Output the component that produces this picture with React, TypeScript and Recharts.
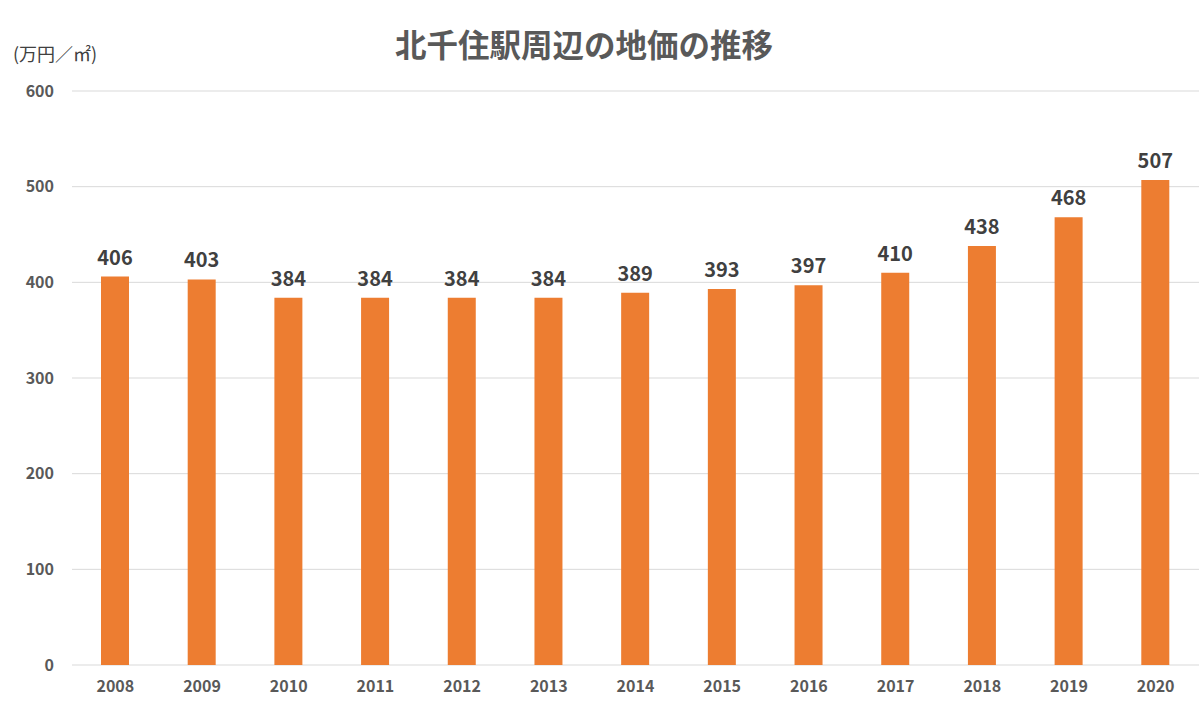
import React from 'react';
import { BarChart, Bar, XAxis, YAxis, CartesianGrid, LabelList } from 'recharts';

const years = ['2008','2009','2010','2011','2012','2013','2014','2015','2016','2017','2018','2019','2020'];
const prices = [406, 403, 384, 384, 384, 384, 389, 393, 397, 410, 438, 468, 507];
const yTicks = [0, 100, 200, 300, 400, 500, 600];

const data = years.map((y, i) => ({ year: y, price: prices[i] }));

const FONT = '"Noto Sans CJK JP", "Noto Sans", sans-serif';

export default function App() {
  return (
    <div style={{ position: 'absolute', left: 0, top: 0, width: 1200, height: 701, background: '#fff', fontFamily: FONT }}>
      <div style={{ position: 'absolute', left: 0, width: 1168, top: 22, lineHeight: '42px', textAlign: 'center', fontSize: 31.5, fontWeight: 700, color: '#595959' }}>
        北千住駅周辺の地価の推移
      </div>
      <div style={{ position: 'absolute', left: 13, top: 40, lineHeight: '26px', fontSize: 18, color: '#404040' }}>
        (万円／㎡)
      </div>
      <BarChart width={1200} height={701} data={data} margin={{ top: 91, right: 1, bottom: 6, left: 0 }} barSize={28}>
        <CartesianGrid horizontal vertical={false} stroke="#d9d9d9" />
        <XAxis dataKey="year" axisLine={false} tickLine={false} tickMargin={10}
          tick={{ fontSize: 16, fontWeight: 700, fill: '#595959', fontFamily: FONT }} />
        <YAxis width={72} domain={[0, 600]} ticks={yTicks} axisLine={false} tickLine={false} tickMargin={12}
          tick={{ fontSize: 16, fontWeight: 700, fill: '#595959', fontFamily: FONT }} />
        <Bar dataKey="price" fill="#ED7D31" isAnimationActive={false}>
          <LabelList dataKey="price" position="top" offset={12}
            style={{ fontSize: 20, fontWeight: 700, fill: '#404040', fontFamily: FONT }} />
        </Bar>
      </BarChart>
    </div>
  );
}
